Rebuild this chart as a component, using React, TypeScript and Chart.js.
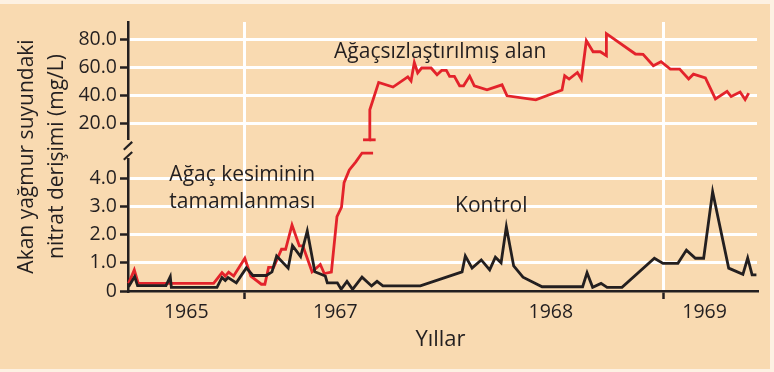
import React, { useEffect, useRef } from 'react';
import { Chart, registerables } from 'chart.js';

Chart.register(...registerables);

// x values are months counted from January 1965
const controlMonths = [2.05, 2.57, 2.82, 5.26, 5.63, 5.72, 9.64, 10.07, 10.35, 10.59, 11.3, 12.16, 12.72, 13.87, 14.36, 14.76, 15.75, 16.12, 16.82, 17.39, 18.04, 18.94, 19.11, 19.97, 20.3, 20.8, 21.28, 22.09, 22.91, 23.38, 23.88, 27.1, 30.68, 30.96, 31.54, 32.33, 33.05, 33.54, 34.03, 34.48, 35.11, 35.91, 37.55, 41.03, 41.41, 41.89, 42.61, 43.13, 44.41, 47.19, 47.93, 49.21, 49.94, 50.71, 51.42, 52.19, 53.57, 54.79, 55.2, 55.58, 55.95];
const controlValues = [0.15, 0.51, 0.19, 0.19, 0.51, 0.13, 0.13, 0.48, 0.37, 0.48, 0.29, 0.82, 0.55, 0.55, 0.68, 1.24, 0.81, 1.61, 1.22, 2.13, 0.68, 0.53, 0.29, 0.29, 0.06, 0.34, 0.06, 0.49, 0.18, 0.34, 0.18, 0.18, 0.68, 1.24, 0.81, 1.1, 0.75, 1.2, 1.0, 2.28, 0.89, 0.49, 0.15, 0.15, 0.65, 0.13, 0.27, 0.13, 0.13, 1.16, 0.98, 0.98, 1.45, 1.16, 1.16, 3.52, 0.81, 0.59, 1.17, 0.57, 0.57];

const clearedLowMonths = [2.05, 2.54, 2.88, 9.35, 10.07, 10.35, 10.64, 11.07, 12.03, 12.54, 13.45, 13.75, 14.07, 14.5, 15.18, 15.53, 16.08, 16.71, 17.01, 17.8, 18.51, 18.85, 19.46, 19.94, 20.33, 20.55, 21.0, 21.56, 22.09, 23.04];
const clearedLowValues = [0.27, 0.75, 0.27, 0.27, 0.65, 0.53, 0.67, 0.53, 1.16, 0.53, 0.24, 0.24, 0.84, 0.84, 1.48, 1.48, 2.34, 1.6, 1.6, 0.68, 0.94, 0.62, 0.67, 2.64, 2.97, 3.84, 4.29, 4.58, 4.89, 4.89];

const clearedHighMonths = [22.72, 22.76, 23.52, 24.75, 26.02, 26.3, 26.58, 26.87, 27.21, 28.02, 28.53, 28.93, 29.33, 29.61, 30.02, 30.47, 30.81, 31.33, 31.73, 32.82, 34.11, 34.54, 37.01, 39.26, 39.49, 39.87, 40.58, 40.92, 41.35, 41.93, 42.55, 43.07, 43.07, 45.56, 46.22, 47.1, 47.76, 48.56, 49.36, 50.13, 50.54, 51.57, 52.43, 53.43, 53.78, 54.55, 54.98, 55.29];
const clearedHighValues = [8.67, 29.9, 49.3, 46.0, 53.2, 50.3, 63.4, 56.1, 59.5, 59.5, 54.7, 57.8, 57.8, 53.6, 53.6, 46.9, 46.9, 53.8, 46.9, 44.1, 47.6, 39.8, 37.0, 43.9, 54.0, 51.7, 56.3, 51.7, 78.8, 71.0, 71.0, 68.2, 83.8, 69.4, 69.2, 61.1, 63.9, 58.7, 58.7, 51.7, 55.1, 52.4, 37.6, 42.9, 39.3, 42.5, 37.2, 41.7];

const yearLabelMonths = [7, 19.8, 38.3, 51.5];
const yearLabels = ['1965', '1967', '1968', '1969'];
const yearBoundaryMonths = [12, 48];
const lowerTicks = [0, 1, 2, 3, 4];
const upperTicks = [20, 40, 60, 80];

const yTitleLines = ['Akan yağmur suyundaki', 'nitrat derişimi (mg/L)'];
const xTitle = 'Yıllar';
const clearedLabel = 'Ağaçsızlaştırılmış alan';
const cuttingLabel = ['Ağaç kesiminin', 'tamamlanması'];
const controlLabel = 'Kontrol';

const DARK = '#231f20';
const RED = '#e3232b';
const PANEL = '#f9dab1';
const OUTER = '#fdf1e3';
const FONT = '"Open Sans", "Noto Sans", sans-serif';

const pts = (xs: number[], ys: number[]) => xs.map((x, i) => ({ x, y: ys[i] }));
const CLEAR = 'rgba(0,0,0,0)';

export default function App() {
  const ref = useRef<HTMLCanvasElement>(null);

  useEffect(() => {
    document.body.style.margin = '0';
    const canvas = ref.current!;
    const fixW = (s: any) => { s.width = 60; };
    const isBoundary = (v: number) => yearBoundaryMonths.includes(v);

    const decor = {
      id: 'decor',
      afterDraw(chart: any) {
        const ctx = chart.ctx;
        const { x, yU, yL } = chart.scales;
        const area = chart.chartArea;
        const ax = area.left;
        ctx.save();
        // axis break marks
        ctx.strokeStyle = DARK;
        ctx.lineWidth = 2.2;
        [yU.bottom + 7, yL.top - 3].forEach((cy: number) => {
          ctx.beginPath();
          ctx.moveTo(ax - 4.2, cy + 3.9);
          ctx.lineTo(ax + 4.2, cy - 3.9);
          ctx.stroke();
        });
        ctx.fillStyle = DARK;
        ctx.textBaseline = 'alphabetic';
        ctx.textAlign = 'center';
        ctx.font = `21px ${FONT}`;
        ctx.fillText(clearedLabel, x.getPixelForValue(28.8), yU.getPixelForValue(66.5));
        ctx.fillText(cuttingLabel[0], x.getPixelForValue(11.81), yL.getPixelForValue(3.91));
        ctx.fillText(cuttingLabel[1], x.getPixelForValue(11.81), yL.getPixelForValue(2.93));
        ctx.fillText(controlLabel, x.getPixelForValue(33.19), yL.getPixelForValue(2.81));
        ctx.font = `22px ${FONT}`;
        ctx.fillText(xTitle, (area.left + area.right) / 2 - 2, area.bottom + 55);
        const midY = (area.top + area.bottom) / 2;
        ctx.font = `21px ${FONT}`;
        [33, 63].forEach((bx, i) => {
          ctx.save();
          ctx.translate(bx, midY);
          ctx.rotate(-Math.PI / 2);
          ctx.fillText(yTitleLines[i], 0, 0);
          ctx.restore();
        });
        ctx.restore();
      },
    };

    const yCommon = (ticks: number[]) => ({
      type: 'linear',
      position: 'left',
      stack: 'y',
      afterFit: fixW,
      afterBuildTicks: (s: any) => { s.ticks = ticks.map((v) => ({ value: v })); },
      grid: {
        color: (c: any) => (c.tick && c.tick.value === 0 ? CLEAR : '#ffffff'),
        lineWidth: 3,
        tickColor: DARK,
        tickWidth: 2.5,
        tickLength: 8,
      },
      border: { display: true, color: DARK, width: 2.5 },
      ticks: {
        color: DARK,
        padding: 3,
        autoSkip: false,
        font: { family: FONT, size: 19.5 },
        callback: (v: any) => (v === 0 ? '0' : Number(v).toFixed(1)),
      },
    });

    const chart = new Chart(canvas, {
      type: 'line',
      data: {
        datasets: [
          {
            label: controlLabel,
            data: pts(controlMonths, controlValues),
            xAxisID: 'x',
            yAxisID: 'yL',
            borderColor: DARK,
            borderWidth: 2.8,
            pointRadius: 0,
            tension: 0,
            clip: false,
          },
          {
            label: clearedLabel,
            data: pts(clearedLowMonths, clearedLowValues),
            xAxisID: 'x',
            yAxisID: 'yL',
            borderColor: RED,
            borderWidth: 2.8,
            pointRadius: 0,
            tension: 0,
            clip: false,
          },
          {
            label: clearedLabel + ' ',
            data: pts(clearedHighMonths, clearedHighValues),
            xAxisID: 'x',
            yAxisID: 'yU',
            borderColor: RED,
            borderWidth: 2.8,
            tension: 0,
            clip: false,
            pointStyle: 'line',
            pointRadius: (c: any) => (c.dataIndex === 0 ? 6.3 : 0),
            pointBorderWidth: 2.8,
            pointBorderColor: RED,
            pointBackgroundColor: RED,
          },
        ],
      },
      options: {
        responsive: false,
        animation: false,
        devicePixelRatio: 1,
        events: [],
        layout: { padding: { left: 68, top: 22, right: 17, bottom: 41 } },
        plugins: { legend: { display: false }, tooltip: { enabled: false } },
        scales: {
          x: {
            type: 'linear',
            position: 'bottom',
            min: 2,
            max: 56,
            afterFit: (s: any) => { s.height = 40; },
            afterBuildTicks: (s: any) => {
              s.ticks = [...yearLabelMonths, ...yearBoundaryMonths]
                .sort((a, b) => a - b)
                .map((v) => ({ value: v }));
            },
            grid: {
              color: (c: any) => (c.tick && isBoundary(c.tick.value) ? '#ffffff' : CLEAR),
              lineWidth: 3,
              tickColor: (c: any) => (c.tick && isBoundary(c.tick.value) ? DARK : CLEAR),
              tickWidth: 2.5,
              tickLength: 8,
            },
            border: { display: true, color: DARK, width: 2.5 },
            ticks: {
              color: DARK,
              padding: 2,
              maxRotation: 0,
              autoSkip: false,
              font: { family: FONT, size: 19.5 },
              callback: (v: any) => {
                const i = yearLabelMonths.indexOf(Number(v));
                return i >= 0 ? yearLabels[i] : '';
              },
            },
          },
          // left boxes are stacked in reverse order: last listed ends on top
          yL: { ...yCommon(lowerTicks), min: 0, max: 4.684, stackWeight: 132 },
          yGap: {
            type: 'linear',
            position: 'left',
            stack: 'y',
            stackWeight: 20,
            min: 0,
            max: 1,
            afterFit: fixW,
            grid: { display: false },
            ticks: { display: false },
            border: { display: false },
          },
          yU: { ...yCommon(upperTicks), min: 9.37, max: 92.04, stackWeight: 116.7 },
        },
      } as any,
      plugins: [decor],
    } as any);

    return () => chart.destroy();
  }, []);

  return (
    <div style={{ position: 'relative', width: 774, height: 372, background: OUTER, overflow: 'hidden' }}>
      <div style={{ position: 'absolute', left: 0, top: 4, width: 770, height: 365, background: PANEL }} />
      <canvas ref={ref} width={774} height={372} style={{ position: 'absolute', left: 0, top: 0, width: 774, height: 372 }} />
    </div>
  );
}
